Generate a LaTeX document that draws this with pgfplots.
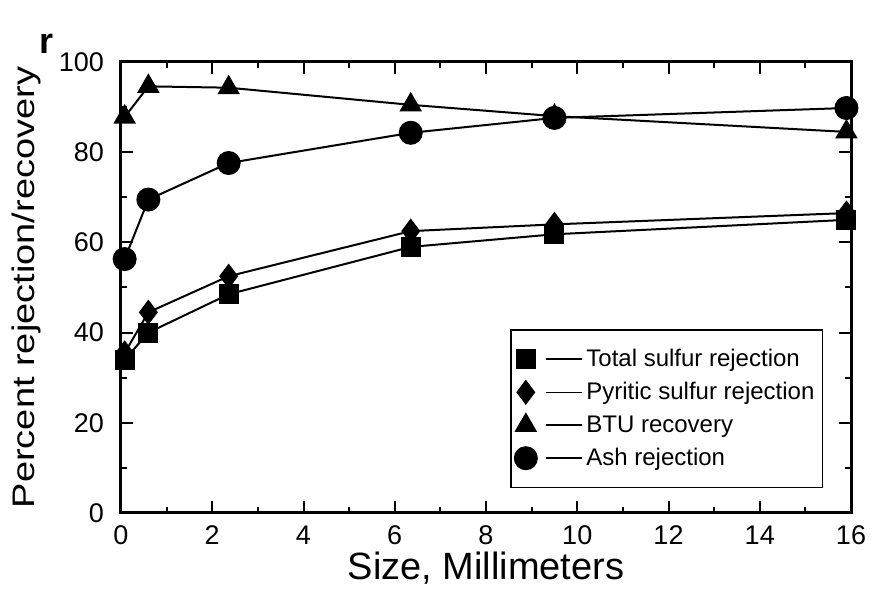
\documentclass[border=0pt]{standalone}
\usepackage{fontspec}
\setmainfont{Liberation Sans}
\usepackage{pgfplots}
\pgfplotsset{compat=1.18}

\begin{document}
\begin{tikzpicture}
\begin{axis}[
    name=ax,
    scale only axis,
    width=365pt, height=225.5pt,
    xmin=0, xmax=16, ymin=0, ymax=100,
    xtick={0,2,...,16}, ytick={0,20,...,100},
    minor x tick num=1, minor y tick num=1,
    tick align=inside,
    major tick length=6pt, minor tick length=3pt,
    axis line style={line width=1.5pt},
    every tick/.style={black, line width=1pt},
    /pgf/number format/assume math mode=true,
    tick label style={font=\fontsize{13.5}{16}\selectfont},
    yticklabel style={xshift=-5pt},
    xticklabel style={yshift=-3pt},
    every axis x label/.style={at={(axis description cs:0.5,0)}, anchor=north, yshift=-16pt},
    every axis y label/.style={at={(axis description cs:-0.13,0.5)}, anchor=center, rotate=90, yscale=0.82},
    label style={font=\fontsize{19}{22}\selectfont},
    xlabel={Size, Millimeters},
    ylabel={Percent rejection/recovery},
    legend style={at={(rel axis cs:0.962,0.055)}, anchor=south east,
        draw=black, line width=0.8pt, font=\fontsize{12}{14}\selectfont,
        row sep=2.5pt, inner xsep=2pt, inner ysep=7.5pt},
    legend cell align=left,
    legend image code/.code={
        \draw[line width=1pt] plot coordinates {(0cm,0cm)};
        \draw[line width=0.8pt] (0.35cm,0cm) -- (0.98cm,0cm);
    },
    clip=false,
]

% total sulfur rejection
\addplot[black, line width=1pt, mark=square*, mark size=4.5pt]
    coordinates {
        (0.08, 34.0)
        (0.6 , 40.0)
        (2.36, 48.5)
        (6.35, 59.0)
        (9.5 , 61.8)
        (15.9, 65.0)
    };

% pyritic sulfur rejection
\addplot[black, line width=1pt, mark=diamond*, mark size=5.5pt]
    coordinates {
        (0.08, 35.5)
        (0.6 , 44.5)
        (2.36, 52.5)
        (6.35, 62.5)
        (9.5 , 64.0)
        (15.9, 66.5)
    };

% BTU recovery
\addplot[black, line width=1pt, mark=triangle*, mark size=5.5pt]
    coordinates {
        (0.08, 87.8)
        (0.6 , 94.6)
        (2.36, 94.3)
        (6.35, 90.5)
        (9.5 , 88.0)
        (15.9, 84.5)
    };

% ash rejection
\addplot[black, line width=1pt, mark=*, mark size=5.5pt]
    coordinates {
        (0.08, 56.3)
        (0.6 , 69.5)
        (2.36, 77.6)
        (6.35, 84.3)
        (9.5 , 87.6)
        (15.9, 89.8)
    };

\legend{Total sulfur rejection, Pyritic sulfur rejection, BTU recovery, Ash rejection}
\end{axis}
\node[font=\bfseries\fontsize{18}{20}\selectfont, anchor=center]
    at ([shift={(-37pt,9pt)}]ax.north west) {r};
\path ([shift={(-60.5pt,-35pt)}]ax.south west) rectangle ([shift={(11pt,31pt)}]ax.north east);
\end{tikzpicture}
\end{document}
